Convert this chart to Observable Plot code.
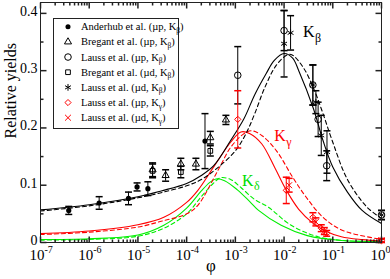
<!DOCTYPE html>
<html><head><meta charset="utf-8">
<script src="https://cdn.jsdelivr.net/npm/d3@7"></script>
<script src="https://cdn.jsdelivr.net/npm/@observablehq/plot@0.6"></script>
<style>
body{margin:0;background:#fff;}
#chart svg{display:block;}
</style></head><body><div id="chart"></div>
<script>
// ---- data ----
// model curves
const bsX = [1e-7, 1e-6, 1e-5, 3e-5, 1e-4, 2e-4, 3.6e-4, 8e-4, 1.5e-3, 2.5e-3, 4.3e-3, 6.3e-3, 1e-2, 1.5e-2, 2e-2, 4e-2, 6.3e-2, 1e-1, 2e-1, 4e-1, 1];
const bsY = [0.057, 0.066, 0.080, 0.090, 0.103, 0.117, 0.134, 0.178, 0.216, 0.258, 0.295, 0.318, 0.330, 0.322, 0.300, 0.234, 0.178, 0.132, 0.088, 0.056, 0.033];
const bdX = [1e-7, 1e-6, 1e-5, 3e-5, 1e-4, 2e-4, 4e-4, 1e-3, 1.65e-3, 2.5e-3, 4e-3, 7e-3, 1.2e-2, 1.5e-2, 2.5e-2, 4e-2, 6.3e-2, 1e-1, 2e-1, 5e-1, 1];
const bdY = [0.055, 0.064, 0.078, 0.087, 0.099, 0.110, 0.128, 0.160, 0.190, 0.225, 0.270, 0.310, 0.328, 0.327, 0.305, 0.270, 0.225, 0.175, 0.110, 0.062, 0.042];
const rsX = [1e-7, 1e-6, 1e-5, 3.4e-5, 1e-4, 1.7e-4, 3.6e-4, 8e-4, 1.3e-3, 2e-3, 3.5e-3, 6.5e-3, 1.1e-2, 2e-2, 4e-2, 7e-2, 1.5e-1, 4e-1, 1];
const rsY = [0.0155, 0.020, 0.031, 0.044, 0.070, 0.091, 0.132, 0.175, 0.193, 0.190, 0.172, 0.130, 0.092, 0.058, 0.033, 0.020, 0.010, 0.005, 0.0025];
const rdX = [1e-7, 1e-6, 1e-5, 3e-5, 1e-4, 1.7e-4, 4.4e-4, 8e-4, 1.5e-3, 2.2e-3, 3.6e-3, 7e-3, 1.5e-2, 2.85e-2, 6.3e-2, 1.6e-1, 1];
const rdY = [0.014, 0.018, 0.027, 0.037, 0.050, 0.065, 0.126, 0.166, 0.190, 0.195, 0.186, 0.160, 0.114, 0.079, 0.044, 0.021, 0.0055];
const gsX = [1e-7, 1e-6, 1e-5, 3.4e-5, 1e-4, 2e-4, 3e-4, 4e-4, 6e-4, 1.1e-3, 2e-3, 3e-3, 8.7e-3, 3e-2, 1.5e-1, 1];
const gsY = [0.0052, 0.0065, 0.013, 0.030, 0.060, 0.090, 0.105, 0.111, 0.108, 0.092, 0.071, 0.056, 0.030, 0.012, 0.0035, 0.0015];
const gdX = [1e-7, 1e-6, 1e-5, 3.4e-5, 1e-4, 2e-4, 3.5e-4, 5e-4, 8e-4, 1.3e-3, 2.5e-3, 4.7e-3, 1.4e-2, 5e-2, 2e-1, 1];
const gdY = [0.0042, 0.0055, 0.011, 0.025, 0.050, 0.080, 0.103, 0.113, 0.110, 0.096, 0.075, 0.062, 0.030, 0.010, 0.003, 0.0015];

// measurements: x, y, error
const andX = [3.8e-7, 1.6e-6, 6.4e-6, 9.6e-6, 1.6e-5, 2.38e-4];
const andY = [0.056, 0.069, 0.077, 0.097, 0.094, 0.177];
const andE = [0.007, 0.011, 0.011, 0.007, 0.012, 0.048];
const brpX = [2.0e-5, 3.7e-5, 7.6e-5, 1.55e-4, 3.06e-4, 6.4e-4];
const brpY = [0.127, 0.117, 0.137, 0.137, 0.183, 0.214];
const brpE = [0.012, 0.010, 0.010, 0.010, 0.011, 0.008];
const lpbX = [1.12e-3, 1.0e-2, 3.9e-2, 5.0e-2, 7.5e-2, 1.0];
const lpbY = [0.292, 0.370, 0.275, 0.215, 0.134, 0.048];
const lpbE = [0.050, 0.035, 0.035, 0.030, 0.026, 0.008];
const brdX = [2.0e-5, 7.6e-5, 3.06e-4];
const brdY = [0.125, 0.123, 0.160];
const brdE = [0.012, 0.010, 0.009];
const ldbX = [1.0e-2, 1.36e-2, 3.9e-2, 4.5e-2, 5.8e-2, 7.6e-2, 1.0];
const ldbY = [0.347, 0.366, 0.275, 0.245, 0.187, 0.158, 0.048];
const ldbE = [0.058, 0.030, 0.035, 0.020, 0.035, 0.037, 0.008];
const lpgX = [1.12e-3, 1.11e-2, 3.9e-2, 5.8e-2, 7.5e-2, 1.0];
const lpgY = [0.215, 0.091, 0.044, 0.025, 0.016, 0.003];
const lpgE = [0.050, 0.023, 0.008, 0.006, 0.005, 0.003];
const ldgX = [1.27e-2, 4.5e-2, 6.7e-2, 1.0];
const ldgY = [0.100, 0.036, 0.020, 0.004];
const ldgE = [0.012, 0.007, 0.006, 0.003];

// axis ticks
const xMajor = [1e-7, 1e-6, 1e-5, 1e-4, 1e-3, 1e-2, 1e-1, 1];
const xExp = ["-7", "-6", "-5", "-4", "-3", "-2", "-1", "0"];
const xMinorMant = [2, 3, 4, 5, 6, 7, 8, 9];
const yMajor = [0, 0.1, 0.2, 0.3, 0.4];
const yLabels = ["0", "0.1", "0.2", "0.3", "0.4"];
const yMinor = [0.05, 0.15, 0.25, 0.35];

// curve labels
const curveLabX = [0.0244, 6.3e-3, 1.37e-3];
const curveLabY = [0.367, 0.186, 0.108];
const curveLabSub = ["β", "γ", "δ"];
const curveLabColor = ["black", "red", "#00dd00"];

// legend
const legendText = ["Anderhub et al. (µp, K", "Bregant et al. (µp, K", "Lauss et al. (µp, K", "Bregant et al. (µd, K", "Lauss et al. (µd, K", "Lauss et al. (µp, K", "Lauss et al. (µd, K"];
const legendSub = ["β", "β", "β", "β", "β", "γ", "γ"];

// ---- build ----
const SERIF = "'Liberation Serif', 'Times New Roman', serif";
const GREEN = "#00ee00";
const zip = (xs, ys, es) => xs.map((x, i) => ({x, y: ys[i], e: es ? es[i] : 0}));
const xMinor = [];
for (let k = 0; k < xMajor.length - 1; k++) for (const m of xMinorMant) xMinor.push(m * xMajor[k]);

const tickSym = (dx, dy) => ({draw(ctx, size) { const r = Math.sqrt(size / Math.PI); ctx.moveTo(0, 0); ctx.lineTo(dx * r, dy * r); }});
const capSym = {draw(ctx, size) { const r = Math.sqrt(size / Math.PI); ctx.moveTo(-r, 0); ctx.lineTo(r, 0); }};

const andD = zip(andX, andY, andE), brpD = zip(brpX, brpY, brpE), lpbD = zip(lpbX, lpbY, lpbE);
const brdD = zip(brdX, brdY, brdE), ldbD = zip(ldbX, ldbY, ldbE), lpgD = zip(lpgX, lpgY, lpgE), ldgD = zip(ldgX, ldgY, ldgE);

function errMarks(data, color) {
  return [
    Plot.ruleX(data, {x: "x", y1: d => d.y - d.e, y2: d => d.y + d.e, stroke: color, strokeWidth: 1}),
    Plot.dot(data, {x: "x", y: d => d.y - d.e, symbol: capSym, r: 3.5, stroke: color, fill: "none"}),
    Plot.dot(data, {x: "x", y: d => d.y + d.e, symbol: capSym, r: 3.5, stroke: color, fill: "none"})
  ];
}
function curve(xs, ys, color, dashed) {
  return Plot.line(zip(xs, ys), {x: "x", y: "y", stroke: color, strokeWidth: 1.1, curve: "catmull-rom", strokeDasharray: dashed ? "4,3" : null});
}

const plot = Plot.plot({
  width: 390, height: 279,
  marginLeft: 40, marginRight: 9, marginTop: 2, marginBottom: 37,
  style: {fontFamily: SERIF, background: "white", color: "black", overflow: "visible"},
  x: {type: "log", domain: [1e-7, 1], axis: null},
  y: {domain: [0, 0.419], axis: null},
  marks: [
    curve(gsX, gsY, GREEN, false), curve(gdX, gdY, GREEN, true),
    curve(rsX, rsY, "red", false), curve(rdX, rdY, "red", true),
    curve(bsX, bsY, "black", false), curve(bdX, bdY, "black", true),
    ...errMarks(andD, "black"), ...errMarks(brpD, "black"), ...errMarks(lpbD, "black"),
    ...errMarks(brdD, "black"), ...errMarks(ldbD, "black"),
    ...errMarks(lpgD, "red"), ...errMarks(ldgD, "red"),
    Plot.dot(andD, {x: "x", y: "y", r: 2.6, fill: "black", stroke: "none"}),
    Plot.dot(brpD, {x: "x", y: "y", r: 3.4, symbol: "triangle2", stroke: "black", fill: "none", strokeWidth: 1}),
    Plot.dot(lpbD, {x: "x", y: "y", r: 3.3, symbol: "circle", stroke: "black", fill: "none", strokeWidth: 1}),
    Plot.dot(brdD, {x: "x", y: "y", r: 3.0, symbol: "square2", stroke: "black", fill: "none", strokeWidth: 1}),
    Plot.dot(ldbD, {x: "x", y: "y", r: 3.2, symbol: "asterisk", stroke: "black", fill: "none", strokeWidth: 1}),
    Plot.dot(lpgD, {x: "x", y: "y", r: 2.8, symbol: "diamond2", stroke: "red", fill: "none", strokeWidth: 1}),
    Plot.dot(ldgD, {x: "x", y: "y", r: 2.8, symbol: "times", stroke: "red", fill: "none", strokeWidth: 1}),
    // frame and ticks
    Plot.frame({stroke: "#222", strokeWidth: 1}),
    Plot.dot(xMajor, {x: d => d, frameAnchor: "bottom", symbol: tickSym(0, -1), r: 6, stroke: "#222", fill: "none"}),
    Plot.dot(xMinor, {x: d => d, frameAnchor: "bottom", symbol: tickSym(0, -1), r: 3, stroke: "#222", fill: "none"}),
    Plot.dot(xMajor, {x: d => d, frameAnchor: "top", symbol: tickSym(0, 1), r: 6, stroke: "#222", fill: "none"}),
    Plot.dot(xMinor, {x: d => d, frameAnchor: "top", symbol: tickSym(0, 1), r: 3, stroke: "#222", fill: "none"}),
    Plot.dot(yMajor, {y: d => d, frameAnchor: "left", symbol: tickSym(1, 0), r: 6, stroke: "#222", fill: "none"}),
    Plot.dot(yMinor, {y: d => d, frameAnchor: "left", symbol: tickSym(1, 0), r: 3, stroke: "#222", fill: "none"}),
    Plot.dot(yMajor, {y: d => d, frameAnchor: "right", symbol: tickSym(-1, 0), r: 6, stroke: "#222", fill: "none"}),
    Plot.dot(yMinor, {y: d => d, frameAnchor: "right", symbol: tickSym(-1, 0), r: 3, stroke: "#222", fill: "none"}),
    // tick labels
    Plot.text(xMajor, {x: d => d, frameAnchor: "bottom", dy: 17, dx: -3.5, text: () => "10", fontSize: 15, fill: "black"}),
    Plot.text(xMajor, {x: d => d, frameAnchor: "bottom", dy: 10, dx: 4, text: (d, i) => xExp[i], fontSize: 10, textAnchor: "start", fill: "black"}),
    Plot.text(yMajor, {y: d => d, frameAnchor: "left", dx: -3, dy: -2, text: (d, i) => yLabels[i], fontSize: 14, textAnchor: "end", fill: "black"}),
    Plot.text([0], {frameAnchor: "bottom", dy: 28, text: () => "φ", fontSize: 17, fill: "black"}),
    Plot.text([0], {frameAnchor: "left", dx: -30, dy: 16, rotate: -90, text: () => "Relative yields", fontSize: 16, fill: "black"}),
    // curve labels
    Plot.text(curveLabX, {x: d => d, y: (d, i) => curveLabY[i], text: () => "K", fontSize: 16, textAnchor: "start", fill: (d, i) => curveLabColor[i]}),
    Plot.text(curveLabX, {x: d => d, y: (d, i) => curveLabY[i], dx: 12, dy: 6, text: (d, i) => curveLabSub[i], fontSize: 12, textAnchor: "start", fill: (d, i) => curveLabColor[i]})
  ]
});
document.getElementById("chart").appendChild(plot);

// legend box inside the plot
const svg = d3.select(plot);
const lg = svg.append("g").attr("font-family", SERIF).attr("font-size", 10.5).attr("text-anchor", "start");
lg.append("rect").attr("x", 53.5).attr("y", 18.5).attr("width", 125).attr("height", 110).attr("fill", "white").attr("stroke", "#222").attr("stroke-width", 1);
const symDefs = [
  {t: d3.symbolCircle, s: 20, fill: "black", stroke: "none"},
  {t: d3.symbolTriangle2, s: 36, fill: "none", stroke: "black"},
  {t: d3.symbolCircle, s: 34, fill: "none", stroke: "black"},
  {t: d3.symbolSquare2, s: 28, fill: "none", stroke: "black"},
  {t: d3.symbolAsterisk, s: 32, fill: "none", stroke: "black"},
  {t: d3.symbolDiamond2, s: 24, fill: "none", stroke: "red"},
  {t: d3.symbolTimes, s: 24, fill: "none", stroke: "red"}
];
legendText.forEach((txt, i) => {
  const cy = 26.7 + i * 15.17;
  const sd = symDefs[i];
  lg.append("path").attr("transform", `translate(68,${cy})`).attr("d", d3.symbol(sd.t, sd.s)()).attr("fill", sd.fill).attr("stroke", sd.stroke).attr("stroke-width", 1);
  const t = lg.append("text").attr("x", 81).attr("y", cy + 3.5).attr("fill", "black").attr("text-anchor", "start");
  t.append("tspan").text(txt);
  t.append("tspan").attr("font-size", 7.5).attr("dy", 2.5).text(legendSub[i]);
  t.append("tspan").attr("dy", -2.5).text(")");
});
</script></body></html>
